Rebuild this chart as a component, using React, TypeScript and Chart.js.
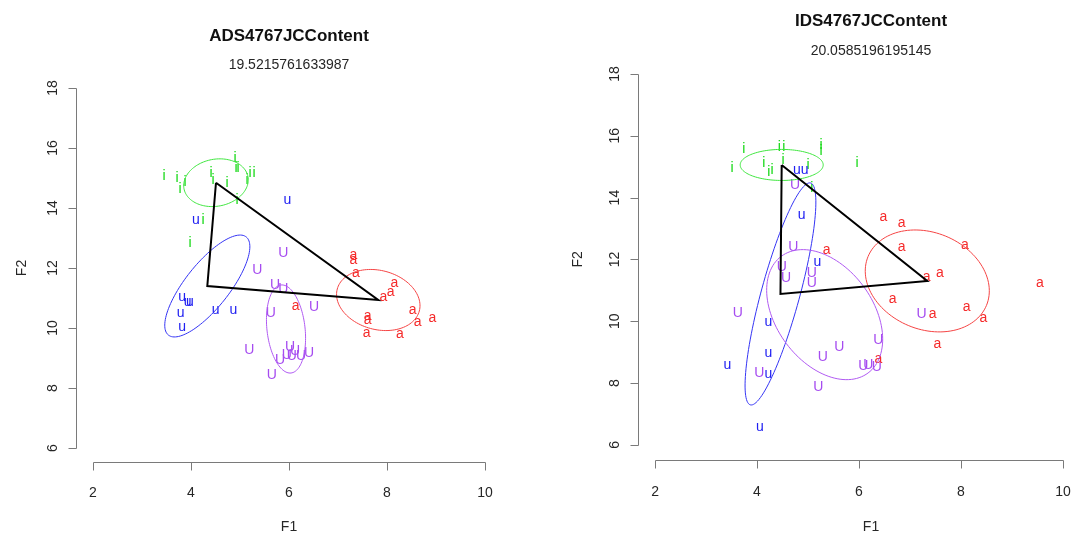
import { useEffect, useRef } from "react";
import { Chart, registerables } from "chart.js";

Chart.register(...registerables);

const FONT = '"Liberation Sans", Arial, Helvetica, sans-serif';

const F1_TICKS = [2, 4, 6, 8, 10];
const F2_TICKS = [6, 8, 10, 12, 14, 16, 18];

const VOWELS = ["i", "u", "U", "a"];
const VOWEL_COLORS = ["#14d814", "#2020f2", "#a64cf0", "#f52a2a"];
const ELLIPSE_COLORS = ["#3fe63f", "#3434f4", "#b05af2", "#f54444"];

// ---- ADS4767JCContent tokens (F1, F2) ----
const adsIF1 = [3.449, 3.714, 3.776, 3.878, 4.408, 4.449, 4.735, 4.898, 4.918, 4.959, 5.143, 5.204, 5.286, 4.939, 4.245, 3.98];
const adsIF2 = [15.067, 15.0, 14.633, 14.867, 15.167, 14.933, 14.833, 15.667, 15.333, 15.333, 14.933, 15.167, 15.167, 14.267, 13.6, 12.833];
const adsuF1 = [5.965, 4.102, 3.822, 3.933, 3.98, 3.79, 3.822, 4.504, 4.863];
const adsuF2 = [14.267, 13.6, 11.043, 10.877, 10.877, 10.49, 10.043, 10.6, 10.6];
const adsUF1 = [5.884, 5.353, 5.714, 5.884, 5.627, 6.51, 5.19, 6.02, 5.953, 6.122, 6.055, 6.245, 6.408, 5.816, 5.647];
const adsUF2 = [12.49, 11.933, 11.433, 11.29, 10.49, 10.69, 9.267, 9.377, 9.1, 9.243, 9.067, 9.067, 9.177, 8.933, 8.433];
const adsaF1 = [7.312, 7.312, 7.367, 8.149, 8.076, 7.924, 8.524, 8.627, 8.924, 7.606, 7.606, 7.586, 8.265, 6.137];
const adsaF2 = [12.433, 12.267, 11.843, 11.49, 11.21, 11.043, 10.6, 10.21, 10.323, 10.4, 10.267, 9.843, 9.8, 10.733];

// vowel means (ellipse centres) in order i, u, U, a
const adsMeanF1 = [4.51, 4.333, 5.939, 7.822];
const adsMeanF2 = [14.843, 11.4, 9.967, 10.933];
// ellipse conjugate semi-axis vectors (data units)
const adsAxisAF1 = [0.653, 0.796, -0.102, 0.837];
const adsAxisAF2 = [0.2, 1.633, 1.467, -0.367];
const adsAxisBF1 = [0.088, 0.347, 0.386, -0.156];
const adsAxisBF2 = [-0.77, -0.467, 0.07, -0.95];

// ---- IDS4767JCContent tokens (F1, F2) ----
const idsIF1 = [3.739, 4.437, 4.524, 5.255, 5.255, 5.961, 3.51, 4.131, 4.229, 4.294, 4.51, 5.0, 5.073];
const idsIF2 = [15.573, 15.647, 15.647, 15.702, 15.508, 15.11, 14.948, 15.11, 14.838, 14.893, 15.217, 15.055, 14.311];
const idsuF1 = [4.784, 4.935, 4.876, 5.182, 4.222, 4.222, 4.222, 3.418, 4.059];
const idsuF2 = [14.893, 14.893, 13.437, 11.926, 9.984, 8.981, 8.291, 8.583, 6.586];
const idsUF1 = [4.745, 4.712, 4.484, 4.569, 5.073, 5.073, 3.622, 5.288, 5.614, 5.202, 4.045, 6.084, 6.182, 6.347, 6.378, 7.229];
const idsUF2 = [14.408, 12.411, 11.764, 11.388, 11.55, 11.227, 10.256, 8.851, 9.175, 7.88, 8.314, 8.55, 8.583, 8.528, 9.392, 10.233];
const idsaF1 = [6.476, 6.837, 6.837, 8.078, 7.327, 7.588, 9.549, 6.661, 7.445, 8.112, 8.437, 7.535, 6.378, 5.367];
const idsaF2 = [13.362, 13.188, 12.392, 12.466, 11.44, 11.57, 11.246, 10.709, 10.233, 10.45, 10.094, 9.252, 8.777, 12.304];

const idsMeanF1 = [4.484, 4.46, 5.327, 7.339];
const idsMeanF2 = [15.057, 10.885, 10.215, 11.305];
const idsAxisAF1 = [0.814, 0.573, 0.851, 1.161];
const idsAxisAF2 = [0, 3.592, -1.887, -0.79];
const idsAxisBF1 = [0, 0.392, -0.755, -0.363];
const idsAxisBF2 = [-0.502, 0, -0.929, -1.447];

type PanelCfg = {
  title: string;
  subtitle: string;
  f1: number[][];
  f2: number[][];
  meanF1: number[];
  meanF2: number[];
  axA: number[][];
  axB: number[][];
  left: number;
  padding: { left: number; right: number; top: number; bottom: number };
  titleX: number;
  titleY: number;
  subtitleY: number;
  xLabelGap: number;
  xTitleGap: number;
  yLabelGap: number;
  yTitleGap: number;
};

const panels: PanelCfg[] = [
  {
    title: "ADS4767JCContent",
    subtitle: "19.5215761633987",
    f1: [adsIF1, adsuF1, adsUF1, adsaF1],
    f2: [adsIF2, adsuF2, adsUF2, adsaF2],
    meanF1: adsMeanF1,
    meanF2: adsMeanF2,
    axA: [adsAxisAF1, adsAxisAF2],
    axB: [adsAxisBF1, adsAxisBF2],
    left: 0,
    padding: { left: 77.3, right: 45.3, top: 73.6, bottom: 74.6 },
    titleX: 289,
    titleY: 36,
    subtitleY: 65,
    xLabelGap: 31,
    xTitleGap: 65,
    yLabelGap: 24,
    yTitleGap: 55,
  },
  {
    title: "IDS4767JCContent",
    subtitle: "20.0585196195145",
    f1: [idsIF1, idsuF1, idsUF1, idsaF1],
    f2: [idsIF2, idsuF2, idsUF2, idsaF2],
    meanF1: idsMeanF1,
    meanF2: idsMeanF2,
    axA: [idsAxisAF1, idsAxisAF2],
    axB: [idsAxisBF1, idsAxisBF2],
    left: 546,
    padding: { left: 92.7, right: 12.7, top: 59.1, bottom: 77.2 },
    titleX: 325,
    titleY: 21,
    subtitleY: 51,
    xLabelGap: 32,
    xTitleGap: 67,
    yLabelGap: 24,
    yTitleGap: 61,
  },
];

function makePanelPlugin(cfg: PanelCfg) {
  return {
    id: "vowelPanel",
    beforeDatasetsDraw(chart: any) {
      const { ctx } = chart;
      const xs = chart.scales.x;
      const ys = chart.scales.y;
      ctx.save();
      // token letters
      ctx.font = `14px ${FONT}`;
      ctx.textAlign = "center";
      ctx.textBaseline = "middle";
      chart.data.datasets.forEach((ds: any, di: number) => {
        if (!ds.letter) return;
        const meta = chart.getDatasetMeta(di);
        ctx.fillStyle = ds.letterColor;
        meta.data.forEach((el: any) => ctx.fillText(ds.letter, el.x, el.y));
      });
      // vowel ellipses
      ctx.lineWidth = 1;
      cfg.meanF1.forEach((cx, k) => {
        const cy = cfg.meanF2[k];
        const ax = cfg.axA[0][k], ay = cfg.axA[1][k];
        const bx = cfg.axB[0][k], by = cfg.axB[1][k];
        ctx.strokeStyle = ELLIPSE_COLORS[k];
        ctx.beginPath();
        const n = 120;
        for (let s = 0; s <= n; s++) {
          const t = (s / n) * Math.PI * 2;
          const vx = cx + ax * Math.cos(t) + bx * Math.sin(t);
          const vy = cy + ay * Math.cos(t) + by * Math.sin(t);
          const px = xs.getPixelForValue(vx);
          const py = ys.getPixelForValue(vy);
          if (s === 0) ctx.moveTo(px, py);
          else ctx.lineTo(px, py);
        }
        ctx.closePath();
        ctx.stroke();
      });
      ctx.restore();
    },
    afterDraw(chart: any) {
      const { ctx, chartArea: a } = chart;
      const xs = chart.scales.x;
      const ys = chart.scales.y;
      ctx.save();
      ctx.strokeStyle = "#7a7a7a";
      ctx.lineWidth = 1;
      // F1 axis
      const yb = Math.round(a.bottom) + 0.5;
      ctx.beginPath();
      ctx.moveTo(Math.round(xs.getPixelForValue(F1_TICKS[0])) + 0.5, yb);
      ctx.lineTo(Math.round(xs.getPixelForValue(F1_TICKS[F1_TICKS.length - 1])) + 0.5, yb);
      F1_TICKS.forEach((t) => {
        const px = Math.round(xs.getPixelForValue(t)) + 0.5;
        ctx.moveTo(px, yb);
        ctx.lineTo(px, yb + 8);
      });
      // F2 axis
      const xl = Math.round(a.left) - 0.5;
      ctx.moveTo(xl, Math.round(ys.getPixelForValue(F2_TICKS[0])) + 0.5);
      ctx.lineTo(xl, Math.round(ys.getPixelForValue(F2_TICKS[F2_TICKS.length - 1])) + 0.5);
      F2_TICKS.forEach((t) => {
        const py = Math.round(ys.getPixelForValue(t)) + 0.5;
        ctx.moveTo(xl, py);
        ctx.lineTo(xl - 8, py);
      });
      ctx.stroke();

      ctx.fillStyle = "#262626";
      ctx.font = `14px ${FONT}`;
      ctx.textAlign = "center";
      ctx.textBaseline = "middle";
      F1_TICKS.forEach((t) => {
        ctx.fillText(String(t), xs.getPixelForValue(t), a.bottom + cfg.xLabelGap);
      });
      F2_TICKS.forEach((t) => {
        ctx.save();
        ctx.translate(a.left - cfg.yLabelGap, ys.getPixelForValue(t));
        ctx.rotate(-Math.PI / 2);
        ctx.fillText(String(t), 0, 0);
        ctx.restore();
      });
      ctx.fillText("F1", cfg.titleX, a.bottom + cfg.xTitleGap);
      ctx.save();
      ctx.translate(a.left - cfg.yTitleGap, (a.top + a.bottom) / 2);
      ctx.rotate(-Math.PI / 2);
      ctx.fillText("F2", 0, 0);
      ctx.restore();

      ctx.fillStyle = "#111111";
      ctx.font = `bold 17px ${FONT}`;
      ctx.fillText(cfg.title, cfg.titleX, cfg.titleY);
      ctx.fillStyle = "#262626";
      ctx.font = `14px ${FONT}`;
      ctx.fillText(cfg.subtitle, cfg.titleX, cfg.subtitleY);
      ctx.restore();
    },
  };
}

function Panel({ cfg }: { cfg: PanelCfg }) {
  const ref = useRef<HTMLCanvasElement>(null);
  useEffect(() => {
    const tokenSets = VOWELS.map((v, k) => ({
      label: v,
      letter: v,
      letterColor: VOWEL_COLORS[k],
      data: cfg.f1[k].map((x, j) => ({ x, y: cfg.f2[k][j] })),
      pointRadius: 0,
      pointHoverRadius: 0,
      showLine: false,
    }));
    // triangle joining the i, u and a means
    const corners = [0, 1, 3, 0];
    const triangle = {
      label: "triangle",
      data: corners.map((k) => ({ x: cfg.meanF1[k], y: cfg.meanF2[k] })),
      showLine: true,
      borderColor: "#000000",
      borderWidth: 2,
      pointRadius: 0,
      pointHoverRadius: 0,
      fill: false,
      tension: 0,
      borderJoinStyle: "miter",
    };
    const chart = new Chart(ref.current as HTMLCanvasElement, {
      type: "scatter",
      data: { datasets: [...tokenSets, triangle] as any },
      options: {
        animation: false,
        responsive: false,
        maintainAspectRatio: false,
        events: [],
        layout: { padding: cfg.padding },
        scales: {
          x: { type: "linear", min: 1.68, max: 10.32, display: false },
          y: { type: "linear", min: 5.52, max: 18.48, display: false },
        },
        plugins: {
          legend: { display: false },
          tooltip: { enabled: false },
        },
      } as any,
      plugins: [makePanelPlugin(cfg) as any],
    });
    return () => chart.destroy();
  }, [cfg]);
  return (
    <canvas
      ref={ref}
      width={546}
      height={537}
      style={{ position: "absolute", left: cfg.left, top: 0, width: 546, height: 537 }}
    />
  );
}

export default function App() {
  return (
    <div
      style={{
        position: "fixed",
        left: 0,
        top: 0,
        width: 1092,
        height: 537,
        background: "#ffffff",
        overflow: "hidden",
      }}
    >
      {panels.map((p) => (
        <Panel key={p.title} cfg={p} />
      ))}
    </div>
  );
}
